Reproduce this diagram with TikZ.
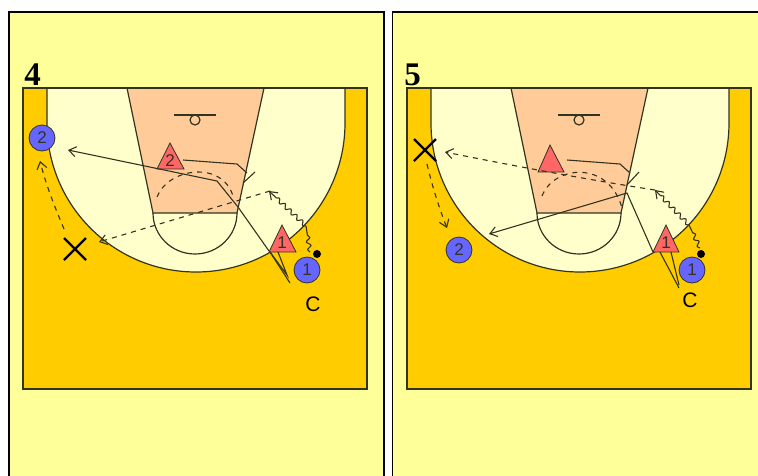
\documentclass[tikz,border=0pt]{standalone}
\usepackage{fontspec}
\setmainfont{Liberation Sans}
\newfontfamily\headfont{Liberation Serif}[Scale=1]
\usetikzlibrary{arrows.meta,decorations.pathmorphing,shapes.geometric}
\definecolor{panelc}{HTML}{FFFF99}
\definecolor{courtc}{HTML}{FFCC00}
\definecolor{keyc}{HTML}{FFFFCC}
\definecolor{lanec}{HTML}{FFCC99}
\definecolor{redc}{HTML}{FF6666}
\definecolor{bluec}{HTML}{6666FF}
\definecolor{linec}{HTML}{333322}
\tikzset{
 panel/.style={fill=panelc,draw=black,line width=1.2pt},
 courtln/.style={draw=linec,line width=1.2pt},
 move/.style={draw=linec,line width=1.1pt},
 dash move/.style={move,dash pattern=on 5pt off 5pt},
 barb/.style={-{Straight Barb[length=7pt,width=10pt]}},
 wig/.style={move,decorate,decoration={snake,amplitude=2pt,segment length=8pt,post length=6pt}},
 offense/.style={circle,draw=linec,line width=.8pt,fill=bluec,minimum size=26pt,inner sep=0pt,font=\fontsize{17}{17}\selectfont,text=linec},
 triglabel/.style={font=\fontsize{17}{17}\selectfont,text=linec,inner sep=0pt},
 coach/.style={font=\fontsize{21}{21}\selectfont,text=black,inner sep=0pt},
 head/.style={font=\headfont\bfseries\fontsize{33}{33}\selectfont,text=black,inner sep=0pt},
 ball/.style={circle,fill=black,minimum size=8pt,inner sep=0pt},
 crossm/.style={draw=black,line width=2.2pt},
}
\newcommand{\courtbase}{%
 \fill[courtc] (23,88) rectangle (367,389);
 \fill[keyc,courtln] (47,88) -- (47,123) arc[start angle=180,end angle=0,radius=149] -- (345,88) -- cycle;
 \fill[lanec,courtln] (127,88) -- (264,88) -- (237,213) -- (153,213) -- cycle;
 \draw[courtln] (153,213) arc[start angle=180,end angle=0,x radius=42,y radius=41];
 \draw[courtln] (23,88) rectangle (367,389);
 \draw[courtln] (174,115) -- (216,115);
 \draw[courtln,fill=lanec] (195,120) circle[radius=5];
}
\begin{document}
\begin{tikzpicture}[x=1pt,y=-1pt]
\useasboundingbox (0,0) rectangle (758,475);
\fill[white] (0,0) rectangle (758,475);
\clip (0,0) rectangle (758,475);
\draw[panel] (9,12) rectangle (384,490);
\draw[panel] (392.5,12) rectangle (770,490);
% left panel
\begin{scope}
 \courtbase
 \node[head] (numA) at (32.5,75) {4};
 \node[offense] (aTwo) at (42,138) {2};
 \node[offense] (aOne) at (307,270) {1};
 \node[ball] (aBall) at (317,254) {};
 \node[coach] (aC) at (313,304) {C};
 \path[fill=redc,draw=linec,line width=.8pt] (170,143) -- (157,169) -- (184,169) -- cycle;
 \path[fill=redc,draw=linec,line width=.8pt] (282,225) -- (269,252) -- (296,252) -- cycle;
 \node[triglabel] (aTriTwo) at (170,161) {2};
 \node[triglabel] (aTriOne) at (282,243) {1};
 \coordinate (aXa) at (64,238); \coordinate (aXb) at (86,260);
 \coordinate (aXc) at (86,238); \coordinate (aXd) at (64,260);
 \draw[crossm] (aXa) -- (aXb); \draw[crossm] (aXc) -- (aXd);
 \coordinate (aCutEnd) at (40,161);
 \coordinate (aCutStart) at (64,229);
 \draw[dash move,barb] (aCutStart) .. controls (54,205) and (46,185) .. (aCutEnd);
 \coordinate (aS1) at (269,251); \coordinate (aS2) at (238,207);
 \coordinate (aS3) at (217,181); \coordinate (aS4) at (68,150);
 \draw[move,barb] (aS1) -- (aS2) -- (aS3) -- (aS4);
 \coordinate (aCa) at (290,283); \coordinate (aCb) at (287,275);
 \coordinate (aTa) at (270,252); \coordinate (aTb) at (278,252);
 \draw[move] (aTa) -- (aCa); \draw[move] (aTa) -- (aCb) -- (aTb);
 \coordinate (aT1) at (183,160); \coordinate (aT2) at (237,164);
 \coordinate (aT3) at (247,173); \coordinate (aCapa) at (243,183); \coordinate (aCapb) at (255,172);
 \draw[move] (aT1) -- (aT2) -- (aT3);
 \draw[move] (aCapa) -- (aCapb);
 \coordinate (aD1) at (157,197); \coordinate (aD2) at (233,196);
 \draw[dash move] (aD1) .. controls (168,168) and (222,160) .. (aD2);
 \coordinate (aW1) at (270,191); \coordinate (aW2) at (99,242);
 \draw[dash move,barb] (aW1) -- (aW2);
 \coordinate (aV1) at (310,252); \coordinate (aV2) at (306,226); \coordinate (aV3) at (269,191);
 \draw[wig] (aV1) -- (aV2);
 \draw[wig,barb] (aV2) -- (aV3);
\end{scope}
% right panel
\begin{scope}[xshift=384pt]
 \courtbase
 \node[head] (numB) at (28.5,75) {5};
 \node[offense] (bTwo) at (75,250) {2};
 \node[offense] (bOne) at (308,270) {1};
 \node[ball] (bBall) at (317,254) {};
 \node[coach] (bC) at (306,300) {C};
 \path[fill=redc,draw=linec,line width=.8pt] (166,145) -- (154,172) -- (180,172) -- cycle;
 \path[fill=redc,draw=linec,line width=.8pt] (282,225) -- (269,252) -- (295,252) -- cycle;
 \node[triglabel] (bTriOne) at (282,243) {1};
 \coordinate (bXa) at (30,139); \coordinate (bXb) at (52,161);
 \coordinate (bXc) at (30,161); \coordinate (bXd) at (52,139);
 \draw[crossm] (bXa) -- (bXb); \draw[crossm] (bXc) -- (bXd);
 \coordinate (bCutStart) at (43,164); \coordinate (bCutEnd) at (63,228);
 \draw[dash move,barb] (bCutStart) .. controls (48,185) and (54,205) .. (bCutEnd);
 \coordinate (bS1) at (269,252); \coordinate (bS2) at (243,193); \coordinate (bS3) at (105,234);
 \draw[move,barb] (bS1) -- (bS2) -- (bS3);
 \coordinate (bCa) at (295,288); \coordinate (bCb) at (295,285);
 \coordinate (bTa) at (276,252); \coordinate (bTb) at (287,252);
 \draw[move] (bTa) -- (bCa); \draw[move] (bTb) -- (bCb);
 \coordinate (bT1) at (183,160); \coordinate (bT2) at (236,164);
 \coordinate (bT3) at (246,173); \coordinate (bCapa) at (243,185); \coordinate (bCapb) at (255,172);
 \draw[move] (bT1) -- (bT2) -- (bT3);
 \draw[move] (bCapa) -- (bCapb);
 \coordinate (bD1) at (158,196); \coordinate (bD2) at (238,208);
 \draw[dash move] (bD1) .. controls (170,165) and (225,160) .. (bD2);
 \coordinate (bW1) at (271,190); \coordinate (bW2) at (61,152);
 \draw[dash move,barb] (bW1) .. controls (225,183) and (150,170) .. (bW2);
 \coordinate (bV1) at (316,248); \coordinate (bV2) at (305,225); \coordinate (bV3) at (271,190);
 \draw[wig] (bV1) -- (bV2);
 \draw[wig,barb] (bV2) -- (bV3);
\end{scope}
\end{tikzpicture}
\end{document}
